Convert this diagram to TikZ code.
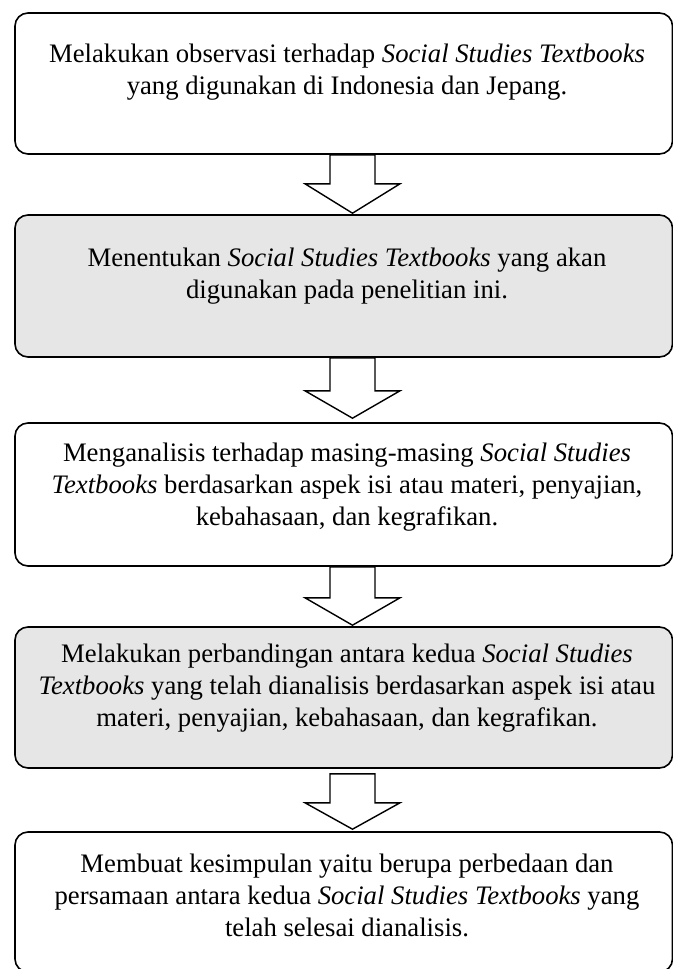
\documentclass[tikz,border=0pt]{standalone}
\usepackage{fontspec}
\setmainfont{Liberation Serif}
\usetikzlibrary{positioning,calc}

\definecolor{stepGray}{RGB}{230,230,230}

\begin{document}
\begin{tikzpicture}[x=1pt,y=-1pt]
            \tikzset{stepbox/.style={draw, line width=1.6pt, rounded corners=13pt, minimum width=657.5pt, inner sep=0pt},
                     steptext/.style={align=center, inner sep=0pt, xshift=3.25pt, font=\fontsize{26.7}{32}\selectfont},
                     flowarrow/.style={draw, line width=1.4pt, fill=white, line join=miter}}

            \useasboundingbox (0,0) rectangle (672,969);

            \node[stepbox, minimum height=141pt] (box1) at (343.75,83.5) {};
            \node[stepbox, minimum height=142pt, fill=stepGray] (box2) at (343.75,286) {};
            \node[stepbox, minimum height=143pt] (box3) at (343.75,494.5) {};
            \node[stepbox, minimum height=141pt, fill=stepGray] (box4) at (343.75,697.5) {};
            \node[stepbox, minimum height=140pt] (box5) at (343.75,902) {};

            \node[steptext, below=32pt of box1.north] (txt1) {Melakukan observasi terhadap \textit{Social Studies Textbooks}\\ yang digunakan di Indonesia dan Jepang.};
            \node[steptext, below=33.5pt of box2.north] (txt2) {Menentukan \textit{Social Studies Textbooks} yang akan\\ digunakan pada penelitian ini.};
            \node[steptext, below=20.5pt of box3.north] (txt3) {Menganalisis terhadap masing-masing \textit{Social Studies}\\ \textit{Textbooks} berdasarkan aspek isi atau materi, penyajian,\\ kebahasaan, dan kegrafikan.};
            \node[steptext, below=18pt of box4.north] (txt4) {Melakukan perbandingan antara kedua \textit{Social Studies}\\ \textit{Textbooks} yang telah dianalisis berdasarkan aspek isi atau\\ materi, penyajian, kebahasaan, dan kegrafikan.};
            \node[steptext, below=23pt of box5.north] (txt5) {Membuat kesimpulan yaitu berupa perbedaan dan\\ persamaan antara kedua \textit{Social Studies Textbooks} yang\\ telah selesai dianalisis.};

            % block arrows: from/to/shaft top/head top/gap at tip
            \foreach \a/\b/\s/\h/\g in {box1/box2/0/29/1, box2/box3/0/33/4, box3/box4/0/31/1, box4/box5/5/34/2}
                \draw[flowarrow] ($(\a.south)+(-13.75,\s)$) -- ++(0,{\h-\s}) -- ++(-25,0)
                    -- ($(\b.north)+(8.75,-\g)$) -- ($(\a.south)+(56.25,\h)$) -- ++(-25,0) -- ++(0,{\s-\h}) -- cycle;
        \end{tikzpicture}
\end{document}
